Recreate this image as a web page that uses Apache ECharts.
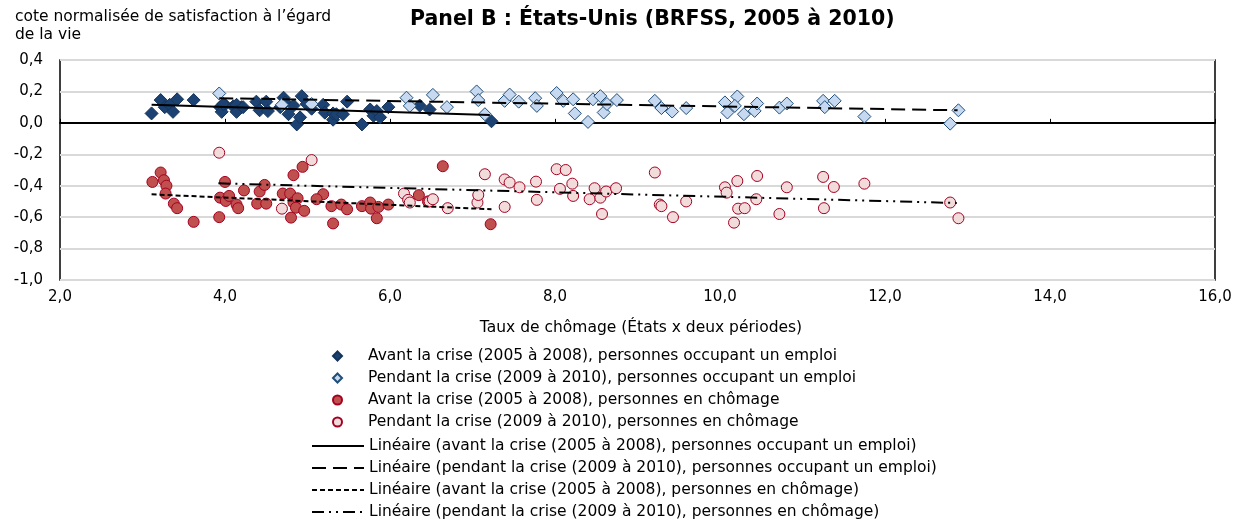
<!DOCTYPE html>
<html>
<head>
<meta charset="utf-8">
<script src="https://cdn.jsdelivr.net/npm/echarts@6/dist/echarts.min.js"></script>
<style>
html,body{margin:0;padding:0;background:#fff;}
#chart{width:1243px;height:523px;}
</style>
</head>
<body>
<div id="chart"></div>
<script>
// ---- DATA ----
const titleText = 'Panel B : États-Unis (BRFSS, 2005 à 2010)';
const yAxisTitle = 'cote normalisée de satisfaction à l\u2019égard\nde la vie';
const xAxisTitle = 'Taux de chômage (États x deux périodes)';
const seriesNames = [
  'Avant la crise (2005 à 2008), personnes occupant un emploi',
  'Pendant la crise (2009 à 2010), personnes occupant un emploi',
  'Avant la crise (2005 à 2008), personnes en chômage',
  'Pendant la crise (2009 à 2010), personnes en chômage',
  'Linéaire (avant la crise (2005 à 2008), personnes occupant un emploi)',
  'Linéaire (pendant la crise (2009 à 2010), personnes occupant un emploi)',
  'Linéaire (avant la crise (2005 à 2008), personnes en chômage)',
  'Linéaire (pendant la crise (2009 à 2010), personnes en chômage)'
];
const xTicks = [2, 4, 6, 8, 10, 12, 14, 16];
const yTicks = [-1.0, -0.8, -0.6, -0.4, -0.2, 0.0, 0.2, 0.4];

const avantEmploi = [
  [3.11,0.06],[3.22,0.145],[3.27,0.10],[3.33,0.115],[3.37,0.07],[3.42,0.15],[3.62,0.145],
  [3.94,0.10],[4.00,0.115],[3.96,0.07],[3.98,0.12],[4.10,0.105],[4.20,0.10],[4.14,0.115],[4.14,0.07],[4.22,0.10],
  [4.38,0.135],[4.42,0.08],[4.50,0.135],[4.52,0.075],[4.67,0.10],[4.71,0.16],[4.73,0.13],
  [4.77,0.055],[4.83,0.11],[4.87,-0.01],[4.91,0.035],[4.93,0.17],[4.99,0.12],[5.05,0.09],
  [5.19,0.115],[5.21,0.065],[5.31,0.02],[5.31,0.06],[5.35,0.055],[5.43,0.055],[5.48,0.135],
  [5.66,-0.01],[5.76,0.085],[5.80,0.045],[5.84,0.075],[5.88,0.035],[5.98,0.10],
  [6.36,0.11],[6.48,0.085],[7.23,0.01]
];
const pendantEmploi = [
  [3.93,0.187],[4.69,0.115],[5.05,0.12],[6.20,0.16],[6.24,0.108],[6.52,0.178],[6.69,0.10],
  [7.05,0.20],[7.07,0.145],[7.15,0.055],[7.39,0.14],[7.45,0.18],[7.56,0.135],[7.76,0.157],
  [7.78,0.108],[8.02,0.19],[8.10,0.14],[8.22,0.15],[8.24,0.06],[8.40,0.006],[8.46,0.15],
  [8.55,0.17],[8.59,0.066],[8.63,0.12],[8.75,0.145],[9.21,0.14],[9.29,0.094],[9.42,0.072],
  [9.59,0.094],[10.06,0.13],[10.09,0.066],[10.21,0.168],[10.18,0.108],[10.29,0.055],
  [10.42,0.076],[10.45,0.123],[10.72,0.097],[10.81,0.123],[11.25,0.14],[11.27,0.10],
  [11.39,0.14],[11.75,0.04],[12.79,-0.005],[12.89,0.08]
];
const avantChomage = [
  [3.12,-0.376],[3.22,-0.316],[3.26,-0.365],[3.29,-0.40],[3.28,-0.45],[3.38,-0.514],[3.42,-0.543],
  [3.62,-0.63],[3.93,-0.60],[3.94,-0.476],[4.00,-0.376],[4.01,-0.497],[4.05,-0.465],[4.14,-0.52],
  [4.16,-0.543],[4.23,-0.43],[4.39,-0.514],[4.42,-0.437],[4.48,-0.395],[4.50,-0.514],[4.70,-0.45],
  [4.79,-0.45],[4.80,-0.603],[4.83,-0.507],[4.88,-0.48],[4.86,-0.54],[4.96,-0.56],[4.83,-0.333],
  [4.94,-0.28],[5.19,-0.454],[5.11,-0.486],[5.29,-0.53],[5.31,-0.64],[5.41,-0.52],[5.48,-0.55],
  [5.66,-0.53],[5.76,-0.507],[5.77,-0.546],[5.84,-0.607],[5.86,-0.535],[5.98,-0.52],
  [6.35,-0.46],[6.46,-0.50],[6.64,-0.276],[7.22,-0.645]
];
const pendantChomage = [
  [3.93,-0.19],[4.69,-0.546],[5.05,-0.237],[6.17,-0.45],[6.22,-0.49],[6.24,-0.507],[6.48,-0.50],
  [6.52,-0.486],[6.70,-0.543],[7.06,-0.507],[7.07,-0.459],[7.15,-0.327],[7.39,-0.36],[7.45,-0.38],
  [7.57,-0.41],[7.39,-0.535],[7.77,-0.374],[7.78,-0.49],[8.02,-0.295],[8.13,-0.30],[8.06,-0.42],
  [8.21,-0.387],[8.22,-0.465],[8.42,-0.486],[8.48,-0.416],[8.55,-0.476],[8.62,-0.437],[8.74,-0.416],
  [8.57,-0.58],[9.21,-0.316],[9.27,-0.52],[9.29,-0.53],[9.43,-0.60],[9.59,-0.50],[10.06,-0.41],
  [10.08,-0.444],[10.17,-0.635],[10.21,-0.37],[10.22,-0.546],[10.30,-0.543],[10.44,-0.486],
  [10.45,-0.338],[10.72,-0.58],[10.81,-0.41],[11.25,-0.344],[11.26,-0.543],[11.38,-0.408],
  [11.75,-0.387],[12.79,-0.507],[12.89,-0.607]
];
// trend line endpoints
const trendAvantEmploi = [[3.11,0.115],[7.21,0.05]];
const trendPendantEmploi = [[3.93,0.157],[12.88,0.08]];
const trendAvantChomage = [[3.11,-0.455],[7.23,-0.55]];
const trendPendantChomage = [[3.92,-0.385],[12.87,-0.51]];

// ---- CHART ----
const FONT = 'DejaVu Sans';
const fmt = v => v.toFixed(1).replace('.', ',');
const chart = echarts.init(document.getElementById('chart'), null, {renderer: 'canvas'});

function scatter(name, data, symbol, size, fill, border) {
  return {
    name, type: 'scatter', data, symbol, symbolSize: size,
    xAxisIndex: 0, yAxisIndex: 0,
    itemStyle: {color: fill, borderColor: border, borderWidth: 1, opacity: 1},
    emphasis: {disabled: true}, silent: true
  };
}
function trend(name, data, dash) {
  return {
    name, type: 'line', data, symbol: 'none', xAxisIndex: 0, yAxisIndex: 0,
    lineStyle: {color: '#000', width: 2, type: dash},
    itemStyle: {color: '#000'},
    emphasis: {disabled: true}, silent: true, z: 5
  };
}

const legendText = {fontFamily: FONT, fontSize: 15.5, color: '#000', lineHeight: 20};

const option = {
  animation: false,
  backgroundColor: '#fff',
  textStyle: {fontFamily: FONT},
  title: [
    {text: titleText, left: 405, top: 4,
     textStyle: {fontFamily: FONT, fontWeight: 'bold', fontSize: 20.5, color: '#000'}}
  ],
  graphic: [
    {type: 'text', left: 15, top: 8,
     style: {text: yAxisTitle, font: '15.5px "DejaVu Sans"', fill: '#000', lineHeight: 18}},
    {type: 'text', x: 641, y: 320,
     style: {text: xAxisTitle, font: '15.5px "DejaVu Sans"', fill: '#000', textAlign: 'center'}}
  ],
  grid: {left: 60, right: 28, top: 60, bottom: 243, show: true,
         borderColor: '#000', borderWidth: 1.5, backgroundColor: 'transparent'},
  xAxis: [
    {type: 'value', min: xTicks[0], max: xTicks[xTicks.length-1], interval: 2,
     axisLine: {show: true, onZero: true, lineStyle: {color: '#000', width: 2}},
     axisTick: {show: true, inside: true, length: 4, lineStyle: {color: '#000', width: 1}},
     axisLabel: {show: false}, splitLine: {show: false}},
    {type: 'value', position: 'bottom', min: xTicks[0], max: xTicks[xTicks.length-1], interval: 2,
     axisLine: {show: false, onZero: false}, axisTick: {show: false},
     axisLabel: {show: true, formatter: fmt, color: '#000', fontFamily: FONT, fontSize: 15, margin: 10},
     splitLine: {show: false}}
  ],
  yAxis: {type: 'value', min: yTicks[0], max: yTicks[yTicks.length-1], interval: 0.2,
    axisLine: {show: false}, axisTick: {show: false},
    axisLabel: {formatter: fmt, color: '#000', fontFamily: FONT, fontSize: 15, margin: 17},
    splitLine: {show: true, lineStyle: {color: '#D9D9D9', width: 2}}},
  legend: [
    {orient: 'vertical', left: 332, top: 346, padding: 0, height: 100,
     itemWidth: 9, itemHeight: 9, itemGap: 2,
     data: seriesNames.slice(0, 4), selectedMode: false,
     textStyle: Object.assign({padding: [0, 0, 0, 21]}, legendText)},
    {orient: 'vertical', left: 311, top: 436, padding: 0, height: 100,
     itemWidth: 52, itemHeight: 20, itemGap: 2,
     data: seriesNames.slice(4), selectedMode: false,
     itemStyle: {color: 'transparent', borderWidth: 0, borderColor: 'transparent'},
     textStyle: legendText}
  ],
  series: [
    scatter(seriesNames[0], avantEmploi, 'diamond', 13, '#1B4272', '#15345A'),
    scatter(seriesNames[1], pendantEmploi, 'diamond', 13, '#C6D9F1', '#1F4E79'),
    scatter(seriesNames[2], avantChomage, 'circle', 11, '#C0504D', '#A50021'),
    scatter(seriesNames[3], pendantChomage, 'circle', 11, '#F2DCDB', '#A50021'),
    trend(seriesNames[4], trendAvantEmploi, 'solid'),
    trend(seriesNames[5], trendPendantEmploi, [14, 7]),
    trend(seriesNames[6], trendAvantChomage, [5, 3]),
    trend(seriesNames[7], trendPendantChomage, [12, 5, 2, 5, 2, 5])
  ]
};
chart.setOption(option);
</script>
</body>
</html>
